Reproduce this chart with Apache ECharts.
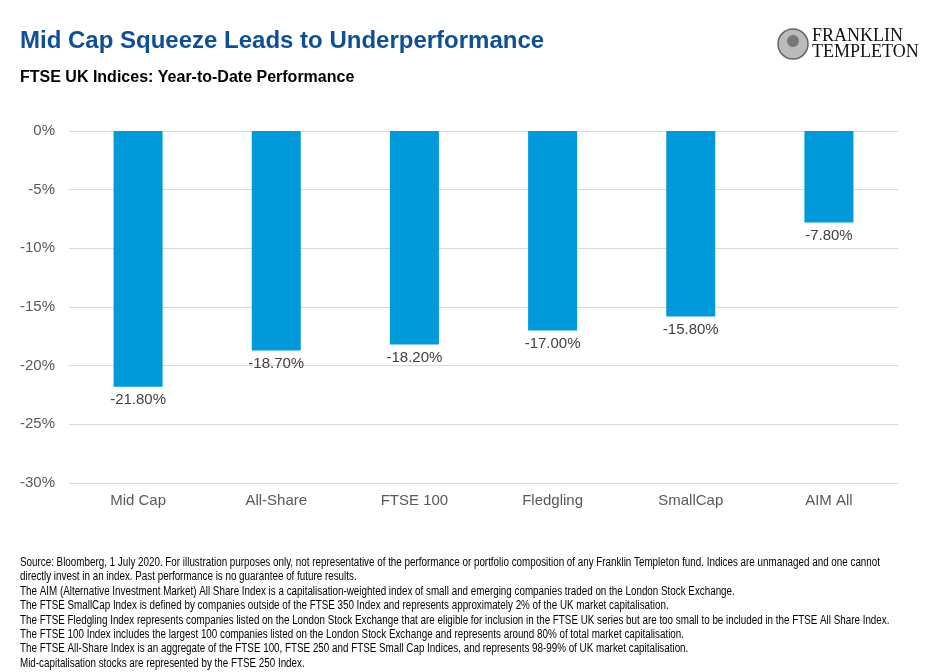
<!DOCTYPE html>
<html><head><meta charset="utf-8">
<script src="https://cdn.jsdelivr.net/npm/echarts@6/dist/echarts.min.js"></script>
<style>html,body{margin:0;padding:0;background:#fff}#c{width:938px;height:672px}</style>
</head><body><div id="c"></div>
<script>
const categories = ['Mid Cap', 'All-Share', 'FTSE 100', 'Fledgling', 'SmallCap', 'AIM All'];
const values = [-21.8, -18.7, -18.2, -17.0, -15.8, -7.8];
const footnotes = [
  'Source: Bloomberg, 1 July 2020. For illustration purposes only, not representative of the performance or portfolio composition of any Franklin Templeton fund. Indices are unmanaged and one cannot',
  'directly invest in an index. Past performance is no guarantee of future results.',
  'The AIM (Alternative Investment Market) All Share Index is a capitalisation-weighted index of small and emerging companies traded on the London Stock Exchange.',
  'The FTSE SmallCap Index is defined by companies outside of the FTSE 350 Index and represents approximately 2% of the UK market capitalisation.',
  'The FTSE Fledgling Index represents companies listed on the London Stock Exchange that are eligible for inclusion in the FTSE UK series but are too small to be included in the FTSE All Share Index.',
  'The FTSE 100 Index includes the largest 100 companies listed on the London Stock Exchange and represents around 80% of total market capitalisation.',
  'The FTSE All-Share Index is an aggregate of the FTSE 100, FTSE 250 and FTSE Small Cap Indices, and represents 98-99% of UK market capitalisation.',
  'Mid-capitalisation stocks are represented by the FTSE 250 Index.'
];
const footFont = '12.5px "Liberation Sans", Arial, sans-serif';
const mc = document.createElement('canvas').getContext('2d');
mc.font = footFont;
const footScale = 860 / mc.measureText(footnotes[0]).width;

const chart = echarts.init(document.getElementById('c'), null, {renderer: 'canvas'});
const graphics = [
  {type: 'text', left: 20, top: 29, style: {text: 'Mid Cap Squeeze Leads to Underperformance', font: 'bold 24px "Liberation Sans", Arial, sans-serif', fill: '#0F4F94'}},
  {type: 'text', left: 20, top: 70, style: {text: 'FTSE UK Indices: Year-to-Date Performance', font: 'bold 16px "Liberation Sans", Arial, sans-serif', fill: '#000'}},
  {type: 'circle', shape: {cx: 793, cy: 44, r: 15}, style: {fill: '#bbb', stroke: '#666', lineWidth: 1.5}},
  {type: 'circle', shape: {cx: 793, cy: 41, r: 6}, style: {fill: '#777'}},
  {type: 'text', left: 812, top: 27, style: {text: 'FRANKLIN', font: '18px "Liberation Serif", "DejaVu Serif", serif', fill: '#111'}},
  {type: 'text', left: 812, top: 43, style: {text: 'TEMPLETON', font: '18px "Liberation Serif", "DejaVu Serif", serif', fill: '#111'}}
];
footnotes.forEach((t, i) => {
  graphics.push({type: 'text', x: 20, y: 556 + i * 14.4, scaleX: footScale, originX: 0,
    style: {text: t, font: footFont, fill: '#000'}});
});
chart.setOption({
  animation: false,
  grid: {left: 69, right: 40, top: 131, bottom: 189, containLabel: false},
  xAxis: {
    type: 'category', data: categories, position: 'bottom',
    axisLine: {show: false}, axisTick: {show: false},
    axisLabel: {color: '#595959', fontSize: 15, fontFamily: '"Liberation Sans", Arial, sans-serif', margin: 10, interval: 0}
  },
  yAxis: {
    type: 'value', min: -30, max: 0, interval: 5,
    axisLabel: {formatter: '{value}%', color: '#595959', fontSize: 15, fontFamily: '"Liberation Sans", Arial, sans-serif', margin: 14},
    splitLine: {lineStyle: {color: '#d9d9d9', width: 1}},
    axisLine: {show: false}, axisTick: {show: false}
  },
  series: [{
    type: 'bar', data: values, barWidth: 49,
    itemStyle: {color: '#009ADA'},
    label: {show: true, position: 'bottom', distance: 6, formatter: p => p.value.toFixed(2) + '%', color: '#404040', fontSize: 15, fontFamily: '"Liberation Sans", Arial, sans-serif'}
  }],
  graphic: graphics
});
</script></body></html>
